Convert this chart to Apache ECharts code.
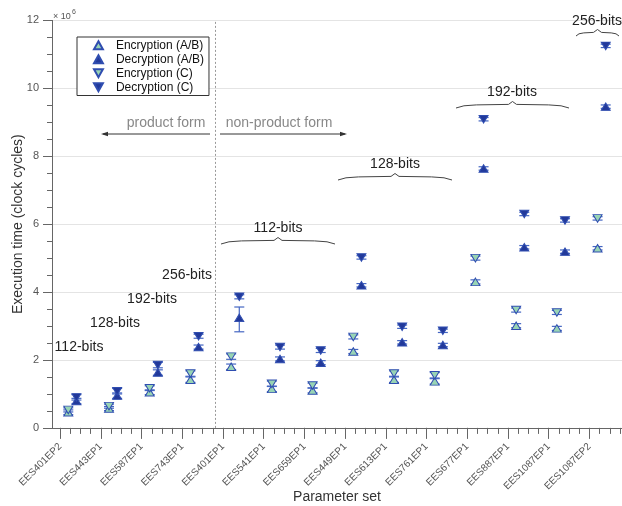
<!DOCTYPE html>
<html>
<head>
<meta charset="utf-8">
<script src="https://cdn.jsdelivr.net/npm/echarts@6/dist/echarts.min.js"></script>
<style>
  html, body { margin: 0; padding: 0; background: #fff; }
  #chart { width: 622px; height: 506px; }
</style>
</head>
<body>
<div id="chart"></div>
<script>
// parameter sets (x axis)
const categories = ['EES401EP2', 'EES443EP1', 'EES587EP1', 'EES743EP1', 'EES401EP1', 'EES541EP1', 'EES659EP1',
    'EES449EP1', 'EES613EP1', 'EES761EP1', 'EES677EP1', 'EES887EP1', 'EES1087EP1', 'EES1087EP2']
// execution time, x 10^6 clock cycles
const encAB = [0.46, 0.57, 1.05, 1.42, 1.80, 1.15, 1.10, 2.25, 1.42, 1.37, 4.30, 3.01, 2.93, 5.29]
const encC = [0.53, 0.64, 1.17, 1.60, 2.10, 1.30, 1.25, 2.68, 1.60, 1.55, 5.00, 3.47, 3.40, 6.17]
const decAB = [0.79, 0.95, 1.63, 2.38, 3.24, 2.03, 1.92, 4.20, 2.52, 2.44, 7.64, 5.32, 5.19, 9.46]
const decC = [0.90, 1.08, 1.85, 2.70, 3.86, 2.38, 2.28, 5.02, 2.98, 2.86, 9.09, 6.30, 6.11, 11.25]
// error bars [minus, plus]
const errEncAB = [[0.07, 0.07], [0.06, 0.06], [0.07, 0.07], [0.08, 0.08], [0.08, 0.08], [0.08, 0.08], [0.07, 0.07],
    [0.06, 0.06], [0.08, 0.08], [0.08, 0.08], [0.06, 0.06], [0.06, 0.06], [0.06, 0.06], [0.05, 0.05]]
const errEncC = [[0.06, 0.06], [0.06, 0.06], [0.07, 0.07], [0.08, 0.08], [0.08, 0.08], [0.08, 0.08], [0.07, 0.07],
    [0.06, 0.06], [0.08, 0.08], [0.08, 0.08], [0.06, 0.06], [0.06, 0.06], [0.06, 0.06], [0.05, 0.05]]
const errDecAB = [[0.08, 0.08], [0.08, 0.08], [0.08, 0.08], [0.06, 0.06], [0.41, 0.32], [0.06, 0.06], [0.06, 0.06],
    [0.05, 0.05], [0.05, 0.05], [0.05, 0.05], [0.05, 0.05], [0.05, 0.05], [0.05, 0.05], [0.05, 0.05]]
const errDecC = [[0.08, 0.08], [0.08, 0.08], [0.08, 0.08], [0.06, 0.06], [0.06, 0.06], [0.06, 0.06], [0.06, 0.06],
    [0.05, 0.05], [0.05, 0.05], [0.05, 0.05], [0.05, 0.05], [0.05, 0.05], [0.05, 0.05], [0.05, 0.05]]
const yTicks = [0, 2, 4, 6, 8, 10, 12]

const FONT = 'Liberation Sans, Arial, Helvetica, sans-serif'
const LIGHT = '#98d4b4'
const DARK = '#22399a'
const EDGE = '#2f4db0'
const BAR = '#4466c2'
const UP = 'path://M5,0 L10,9 L0,9 Z'
const DOWN = 'path://M0,0 L10,0 L5,9 Z'

const encOffset = 0.2
const decOffset = 0.4
const catPos = categories.map((c, i) => i + 1)

function points(vals, off) {
    return vals.map((v, i) => [catPos[i] + off, v])
}
function bars(vals, errs, off) {
    return vals.map((v, i) => [catPos[i] + off, v, v - errs[i][0], v + errs[i][1]])
}

function renderBar(params, api) {
    const x = api.value(0)
    const lo = api.coord([x, api.value(2)])
    const hi = api.coord([x, api.value(3)])
    const hw = 5
    const style = { stroke: BAR, lineWidth: 1.2, fill: null }
    return {
        type: 'group',
        children: [
            { type: 'line', shape: { x1: lo[0], y1: lo[1], x2: hi[0], y2: hi[1] }, style },
            { type: 'line', shape: { x1: lo[0] - hw, y1: lo[1], x2: lo[0] + hw, y2: lo[1] }, style },
            { type: 'line', shape: { x1: hi[0] - hw, y1: hi[1], x2: hi[0] + hw, y2: hi[1] }, style }
        ]
    }
}

function errSeries(vals, errs, off) {
    return {
        type: 'custom',
        renderItem: renderBar,
        data: bars(vals, errs, off),
        encode: { x: 0, y: [1, 2, 3] },
        z: 1,
        silent: true
    }
}

function markSeries(name, vals, off, symbol, fill) {
    return {
        name,
        type: 'scatter',
        symbol,
        symbolSize: [9, 7.5],
        data: points(vals, off),
        itemStyle: { color: fill, borderColor: EDGE, borderWidth: 1, opacity: 1 },
        z: 3
    }
}

// curly brace above a group
function brace(x0, x1, yb) {
    const w = x1 - x0
    const xm = (x0 + x1) / 2
    const pts = [
        [x0, yb], [x0 + w * 0.07, yb - 2.2], [x0 + w * 0.18, yb - 3.1], [xm - 4, yb - 3.6], [xm, yb - 6.5],
        [xm + 4, yb - 3.6], [x1 - w * 0.18, yb - 3.1], [x1 - w * 0.07, yb - 2.2], [x1, yb]
    ]
    return { type: 'polyline', shape: { points: pts }, style: { fill: null, stroke: '#444', lineWidth: 1 }, z: 10 }
}
function label(text, x, y, color) {
    return {
        type: 'text', x, y, z: 10,
        style: { text, fill: color || '#222', font: '14px ' + FONT, textAlign: 'center', textVerticalAlign: 'middle' }
    }
}

const chart = echarts.init(document.getElementById('chart'))
const option = {
    backgroundColor: '#fff',
    animation: false,
    textStyle: { fontFamily: FONT },
    grid: { left: 52, right: 0, top: 20.4, bottom: 78.1, containLabel: false, outerBoundsMode: 'none' },
    legend: {
        orient: 'vertical',
        left: 77,
        top: 37,
        data: ['Encryption (A/B)', 'Decryption (A/B)', 'Encryption (C)', 'Decryption (C)'],
        itemWidth: 9,
        itemHeight: 8,
        itemGap: 1.5,
        padding: [2, 5, 2, 16],
        borderColor: '#333',
        borderWidth: 1,
        backgroundColor: '#fff',
        textStyle: { fontSize: 12, color: '#111', lineHeight: 12.5, padding: [0, 0, 0, 8] }
    },
    xAxis: [
        {
            type: 'value',
            min: 0.8,
            max: 14.8,
            name: 'Parameter set',
            nameLocation: 'middle',
            nameGap: 62,
            nameMoveOverlap: false,
            nameTextStyle: { fontSize: 14, color: '#333' },
            axisLine: { show: true, onZero: false, lineStyle: { color: '#666' } },
            axisTick: { show: true, length: 11, customValues: catPos, lineStyle: { color: '#666' } },
            axisLabel: {
                customValues: catPos,
                rotate: 45,
                fontSize: 10,
                color: '#555',
                margin: 17,
                formatter: v => categories[Math.round(v) - 1] || ''
            },
            splitLine: { show: false }
        },
        {
            type: 'value',
            min: 0.8,
            max: 14.8,
            position: 'bottom',
            axisLine: { show: false, onZero: false },
            axisTick: {
                show: true, length: 6, lineStyle: { color: '#666' },
                customValues: Array.from({ length: 56 }, (_, k) => 1 + k * 0.25).filter(v => v < 14.8)
            },
            axisLabel: { show: false },
            splitLine: { show: false }
        }
    ],
    yAxis: {
        type: 'value',
        min: yTicks[0],
        max: yTicks[yTicks.length - 1],
        interval: 2,
        name: 'Execution time (clock cycles)',
        nameLocation: 'middle',
        nameGap: 27,
        nameMoveOverlap: false,
        nameTextStyle: { fontSize: 14, color: '#333' },
        axisLine: { show: true, lineStyle: { color: '#666' } },
        axisTick: { show: true, length: 9, lineStyle: { color: '#666' } },
        minorTick: { show: true, splitNumber: 4, length: 5, lineStyle: { color: '#666' } },
        axisLabel: { fontSize: 11, color: '#555', margin: 13 },
        splitLine: { show: true, lineStyle: { color: '#e4e4e4' } }
    },
    graphic: [
        { type: 'text', x: 53, y: 12, style: { text: '× 10', fill: '#555', font: '9px ' + FONT } },
        { type: 'text', x: 72, y: 9, style: { text: '6', fill: '#555', font: '7px ' + FONT } },
        label('product form', 166, 123, '#888'),
        label('non-product form', 279, 123, '#888'),
        { type: 'line', shape: { x1: 103, y1: 134, x2: 210, y2: 134 }, style: { stroke: '#333', lineWidth: 1 } },
        { type: 'polygon', shape: { points: [[101, 134], [108, 131.8], [108, 136.2]] }, style: { fill: '#333' } },
        { type: 'line', shape: { x1: 220, y1: 134, x2: 345, y2: 134 }, style: { stroke: '#333', lineWidth: 1 } },
        { type: 'polygon', shape: { points: [[347, 134], [340, 131.8], [340, 136.2]] }, style: { fill: '#333' } },
        label('256-bits', 187, 275),
        label('192-bits', 152, 299),
        label('128-bits', 115, 323),
        label('112-bits', 79, 347),
        label('112-bits', 278, 228),
        brace(221, 335, 244),
        label('128-bits', 395, 164),
        brace(338, 452, 180),
        label('192-bits', 512, 92),
        brace(456, 569, 108),
        label('256-bits', 597, 21),
        brace(576, 619, 36)
    ],
    series: [
        errSeries(encAB, errEncAB, encOffset),
        errSeries(encC, errEncC, encOffset),
        errSeries(decAB, errDecAB, decOffset),
        errSeries(decC, errDecC, decOffset),
        markSeries('Encryption (A/B)', encAB, encOffset, UP, LIGHT),
        markSeries('Decryption (A/B)', decAB, decOffset, UP, DARK),
        markSeries('Encryption (C)', encC, encOffset, DOWN, LIGHT),
        Object.assign(markSeries('Decryption (C)', decC, decOffset, DOWN, DARK), {
            markLine: {
                silent: true,
                symbol: ['none', 'none'],
                label: { show: false },
                lineStyle: { color: '#999', type: [2, 2], width: 1 },
                data: [{ xAxis: 4.8 }]
            }
        })
    ]
}
chart.setOption(option)
</script>
</body>
</html>
